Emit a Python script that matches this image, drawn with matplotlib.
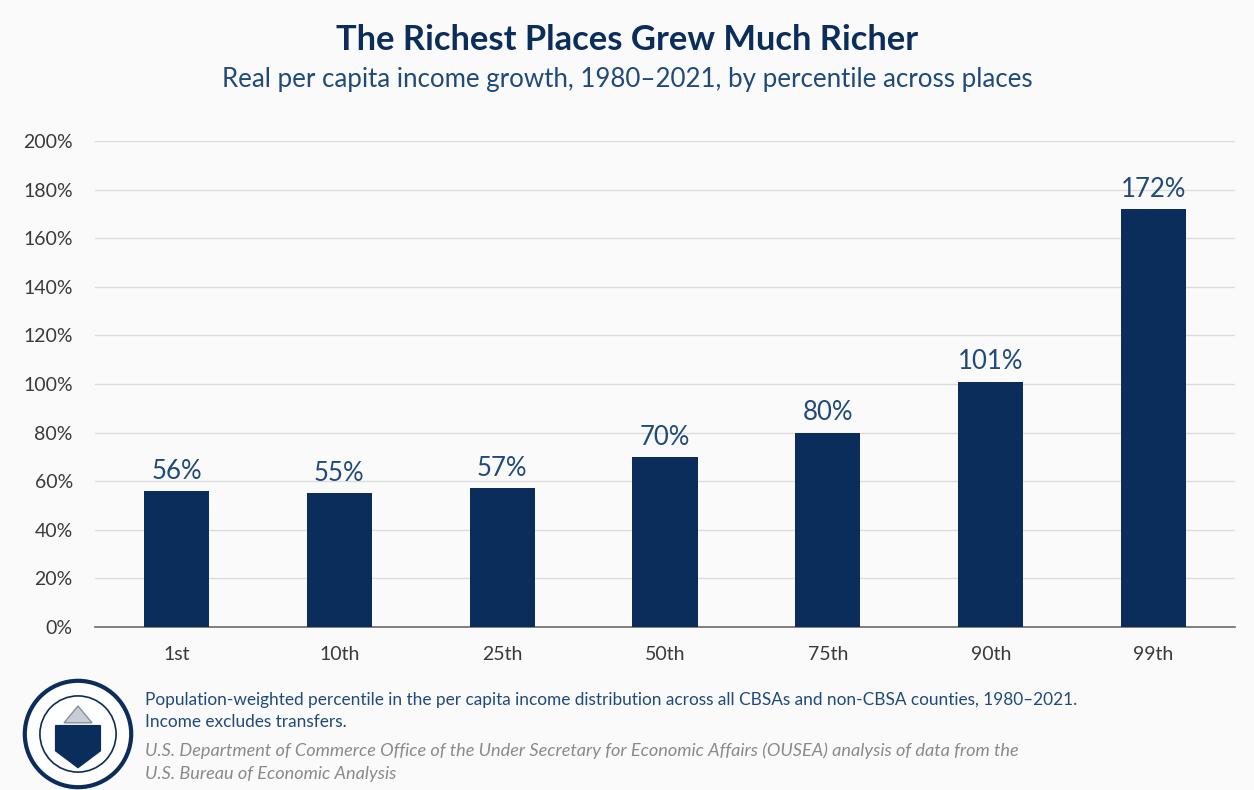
import matplotlib.pyplot as plt
from matplotlib.patches import Circle, Polygon
from matplotlib.ticker import PercentFormatter

plt.rcParams['font.family'] = ['Lato', 'DejaVu Sans']

# Data
percentiles = ['1st', '10th', '25th', '50th', '75th', '90th', '99th']
growth = [56, 55, 57, 70, 80, 101, 172]

navy = '#0b2d5b'
label_blue = '#1f4a7a'
bg = '#fafafa'

fig = plt.figure(figsize=(12.54, 7.9), dpi=100, facecolor=bg)
ax = fig.add_axes([95/1254, 1 - 627/790, 1140/1254, (627 - 141)/790])
ax.set_facecolor(bg)

x = range(len(percentiles))
bars = ax.bar(x, growth, width=0.4, color=navy, zorder=3)
for xi, v in zip(x, growth):
    ax.text(xi, v + 3, f'{v}%', ha='center', va='bottom',
            fontsize=18.5, color=label_blue, zorder=4)

ax.set_xlim(-0.5, len(percentiles) - 0.5)
ax.set_ylim(0, 200)
ax.set_yticks(range(0, 201, 20))
ax.yaxis.set_major_formatter(PercentFormatter(decimals=0))
ax.set_xticks(list(x))
ax.set_xticklabels(percentiles)
ax.tick_params(axis='both', length=0, labelsize=14, colors='#3a3a3a')
ax.tick_params(axis='x', pad=14)
ax.tick_params(axis='y', pad=16)
ax.grid(axis='y', color='#dcdcdc', linewidth=1, zorder=0)
for s in ['top', 'right', 'left']:
    ax.spines[s].set_visible(False)
ax.spines['bottom'].set_color('#6b6b6b')
ax.spines['bottom'].set_linewidth(1.2)

# Titles
fig.text(0.5, 1 - 40/790, 'The Richest Places Grew Much Richer', ha='center',
         va='center', fontsize=24.8, fontweight='bold', color=navy)
fig.text(0.5, 1 - 80/790,
         'Real per capita income growth, 1980\u20132021, by percentile across places',
         ha='center', va='center', fontsize=18.6, color=label_blue)

# Footnotes
fig.text(145/1254, 1 - 700/790,
         'Population-weighted percentile in the per capita income distribution across all CBSAs and non-CBSA counties, 1980\u20132021.',
         ha='left', va='center', fontsize=12.4, color=label_blue)
fig.text(145/1254, 1 - 722/790, 'Income excludes transfers.',
         ha='left', va='center', fontsize=12.4, color=label_blue)
fig.text(145/1254, 1 - 751/790,
         'U.S. Department of Commerce Office of the Under Secretary for Economic Affairs (OUSEA) analysis of data from the',
         ha='left', va='center', fontsize=13.1, color='#8a8a8a', style='italic')
fig.text(145/1254, 1 - 774/790, 'U.S. Bureau of Economic Analysis',
         ha='left', va='center', fontsize=13.1, color='#8a8a8a', style='italic')

# Seal (simplified)
lax = fig.add_axes([22/1254, 1 - 790/790, 112/1254, 112/790])
lax.set_xlim(-1, 1)
lax.set_ylim(-1, 1)
lax.set_aspect('equal')
lax.axis('off')
lax.add_patch(Circle((0, 0), 0.95, facecolor='white', edgecolor=navy, linewidth=3))
lax.add_patch(Circle((0, 0), 0.68, facecolor='white', edgecolor=navy, linewidth=1.2))
lax.add_patch(Polygon([(-0.4, 0.15), (0.4, 0.15), (0.4, -0.3), (0, -0.6), (-0.4, -0.3)],
                      closed=True, facecolor=navy, edgecolor=navy))
lax.add_patch(Polygon([(-0.25, 0.2), (0, 0.5), (0.25, 0.2)], closed=True,
                      facecolor='#c8ccd4', edgecolor='#8890a0'))

fig.savefig('out.png', dpi=100, facecolor=bg)
